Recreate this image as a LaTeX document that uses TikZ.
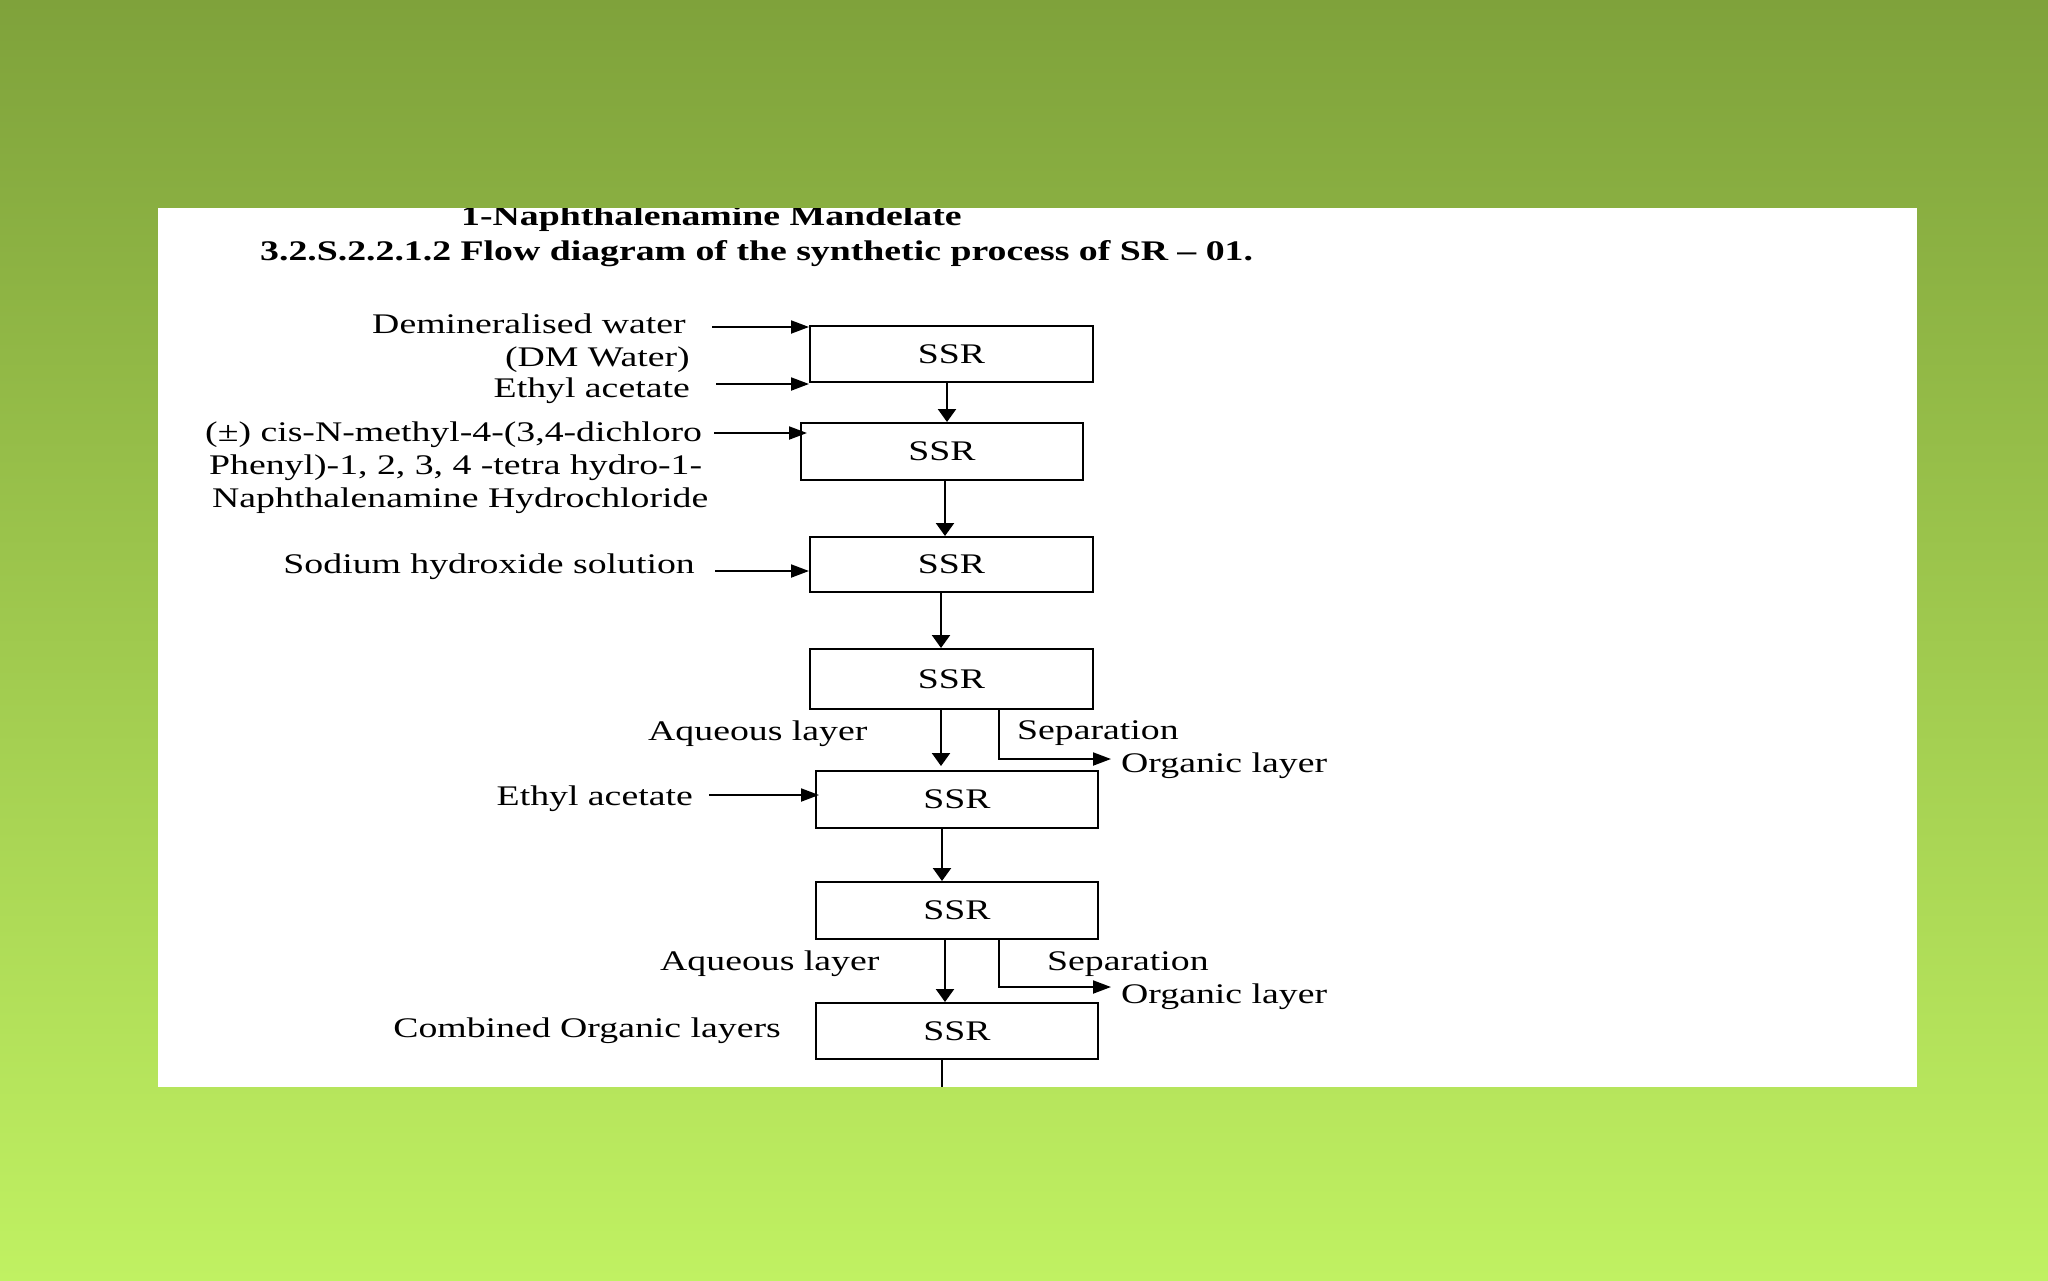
\documentclass[tikz,border=0pt]{standalone}
\usepackage{fontspec}
\setmainfont{Liberation Serif}[FakeStretch=1.33]
\usetikzlibrary{arrows.meta}
\definecolor{bgtop}{RGB}{127,162,59}
\definecolor{bgbot}{RGB}{192,241,98}

\begin{document}
\begin{tikzpicture}[x=1pt,y=-1pt,font=\fontsize{28.4}{33}\selectfont,
  ssr/.style={draw,line width=2pt,minimum width=283pt,minimum height=56pt,inner sep=0pt},
  lbl/.style={inner sep=0pt},
  hflow/.style={line width=2pt,-{Triangle[length=18pt,width=13pt]}},
  vflow/.style={line width=2.3pt,-{Triangle[length=13pt,width=18pt]}}]
\useasboundingbox (0,0) rectangle (2048,1280);
\shade[top color=bgtop,bottom color=bgbot] (0,0) rectangle (2048,1280);
\fill[white] (158,208) rectangle (1917,1087);
\begin{scope}
\clip (158,208) rectangle (1917,1087);
\node[lbl,anchor=base west,font=\fontsize{28.4}{33}\selectfont\bfseries] (ttl) at (461,225) {1-Naphthalenamine Mandelate};
\node[lbl,anchor=base west,font=\fontsize{28.4}{33}\selectfont\bfseries] (hdr) at (260,260) {3.2.S.2.2.1.2 Flow diagram of the synthetic process of SR -- 01.};
\node[ssr] (b1) at (951.5,354) {SSR};
\node[ssr,minimum width=282pt,minimum height=57pt] (b2) at (942,451.5) {SSR};
\node[ssr,minimum height=55pt] (b3) at (951.5,564.5) {SSR};
\node[ssr,minimum height=60pt] (b4) at (951.5,679) {SSR};
\node[ssr,minimum width=282pt,minimum height=57pt] (b5) at (957,799.5) {SSR};
\node[ssr,minimum width=282pt,minimum height=57pt] (b6) at (957,910.5) {SSR};
\node[ssr,minimum width=282pt] (b7) at (957,1031) {SSR};
\node[lbl,anchor=base east] (dmw) at (686,333) {Demineralised water};
\node[lbl,anchor=base east] (dmw2) at (690,366) {(DM Water)};
\node[lbl,anchor=base east] (ea1) at (690,397) {Ethyl acetate};
\node[lbl,anchor=base west] (chem1) at (205,441) {(±) cis-N-methyl-4-(3,4-dichloro};
\node[lbl,anchor=base west] (chem2) at (209,474) {Phenyl)-1, 2, 3, 4 -tetra hydro-1-};
\node[lbl,anchor=base west] (chem3) at (212,507) {Naphthalenamine Hydrochloride};
\node[lbl,anchor=base east] (naoh) at (695,573) {Sodium hydroxide solution};
\node[lbl,anchor=base west] (aq1) at (648,740) {Aqueous layer};
\node[lbl,anchor=base west] (sep1) at (1017,739) {Separation};
\node[lbl,anchor=base west] (org1) at (1121,772) {Organic layer};
\node[lbl,anchor=base east] (ea2) at (693,805) {Ethyl acetate};
\node[lbl,anchor=base west] (aq2) at (660,970) {Aqueous layer};
\node[lbl,anchor=base west] (sep2) at (1047,970) {Separation};
\node[lbl,anchor=base west] (org2) at (1121,1003) {Organic layer};
\node[lbl,anchor=base east] (comb) at (781,1037) {Combined Organic layers};
\coordinate (in1) at (712,327);
\coordinate (in2) at (716,384);
\coordinate (in3) at (714,433);
\coordinate (in4) at (715,571);
\coordinate (in5) at (709,795);
\coordinate (out1) at (1111,759);
\coordinate (out2) at (1111,987);
\coordinate (cut) at (942,1087);
\draw[hflow] (in1) -- (in1 -| b1.west);
\draw[hflow] (in2) -- (in2 -| b1.west);
\draw[hflow] (in3) -- ([xshift=7pt]in3 -| b2.west);
\draw[hflow] (in4) -- (in4 -| b3.west);
\draw[hflow] (in5) -- ([xshift=4pt]in5 -| b5.west);
\draw[vflow] ([xshift=-4.5pt]b1.south) -- ([xshift=-4.5pt]b1.south |- b2.north);
\draw[vflow] ([xshift=3pt]b2.south) -- ([xshift=3pt]b2.south |- b3.north);
\draw[vflow] ([xshift=-10.5pt]b3.south) -- ([xshift=-10.5pt]b3.south |- b4.north);
\draw[vflow] ([xshift=-10.5pt]b4.south) -- ([xshift=-10.5pt,yshift=4pt]b4.south |- b5.north);
\draw[hflow] ([xshift=47.5pt]b4.south) |- (out1);
\draw[vflow] ([xshift=-15pt]b5.south) -- ([xshift=-15pt]b5.south |- b6.north);
\draw[vflow] ([xshift=-12pt]b6.south) -- ([xshift=-12pt]b6.south |- b7.north);
\draw[hflow] ([xshift=42pt]b6.south) |- (out2);
\draw[line width=2.3pt] ([xshift=-15pt]b7.south) -- (cut);
\end{scope}
\end{tikzpicture}
\end{document}
